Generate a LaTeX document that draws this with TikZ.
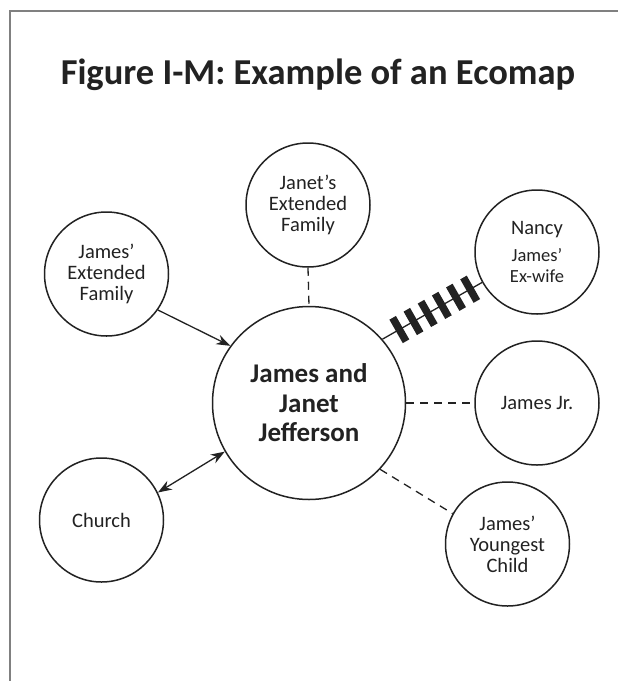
\documentclass[tikz,border=0pt]{standalone}
\usepackage{fontspec}
\setmainfont{Carlito}
\usetikzlibrary{arrows.meta}
\definecolor{ink}{HTML}{222222}
\definecolor{framegray}{HTML}{808080}
\newcommand{\smallline}{\fontsize{18.5}{20}\selectfont}
\begin{document}
\begin{tikzpicture}[x=1pt,y=-1pt,
  every node/.style={text=ink},
  party/.style={circle, draw=ink, line width=1.5pt, minimum size=124pt, inner sep=0pt,
    align=center, font=\fontsize{20.5}{21}\selectfont},
  hub/.style={party, minimum size=193pt, font=\bfseries\fontsize{27}{29.5}\selectfont},
  link/.style={draw=ink, line width=1.3pt},
  weak/.style={link, dash pattern=on 8pt off 6pt},
  flow/.style={link, -{Stealth[length=14pt,width=10pt]}},
  mutual/.style={link, {Stealth[length=14pt,width=10pt]}-{Stealth[length=14pt,width=10pt]}},
  hatchbar/.style={rectangle, fill=ink, draw=none, minimum width=7.5pt, minimum height=27pt,
    inner sep=0pt, sloped}
]
% page and frame
\useasboundingbox (0,0) rectangle (618,681);
\fill[white] (0,0) rectangle (618,681);
\draw[framegray, line width=1.2pt] (10,681) -- (10,11) -- (618,11);

% title
\node[anchor=base, font=\bfseries\fontsize{36.5}{42}\selectfont] (title) at (318,84)
  {Figure I-M: Example of an Ecomap};

% family and its surroundings
\node[hub]   (hub)    at (309,403) {James and\\Janet\\Jefferson};
\node[party] (janet)  at (308,205) {Janet's\\Extended\\Family};
\node[party] (jext)   at (106.5,274) {James'\\Extended\\Family};
\node[party] (nancy)  at (537,252) {Nancy\\[6pt]\smallline James'\\\smallline Ex-wife};
\node[party] (jr)     at (537,403) {James Jr.};
\node[party] (church) at (101.5,520) {Church};
\node[party] (young)  at (507.5,544) {James'\\Youngest\\Child};

% connections
\draw[weak] (janet.south) -- (hub.north);
\draw[weak] (hub.east) -- (jr.west);
\draw[weak] (hub.-43) -- (young.151);
\draw[flow] (jext.-35) -- (hub.144);
\draw[mutual] (church.26) -- (hub.210);
\draw[link] (hub.41)
  -- node[hatchbar, pos=0.17]  (h1) {}
     node[hatchbar, pos=0.312] (h2) {}
     node[hatchbar, pos=0.454] (h3) {}
     node[hatchbar, pos=0.596] (h4) {}
     node[hatchbar, pos=0.738] (h5) {}
     node[hatchbar, pos=0.88]  (h6) {}
  (nancy.209);
\end{tikzpicture}
\end{document}
